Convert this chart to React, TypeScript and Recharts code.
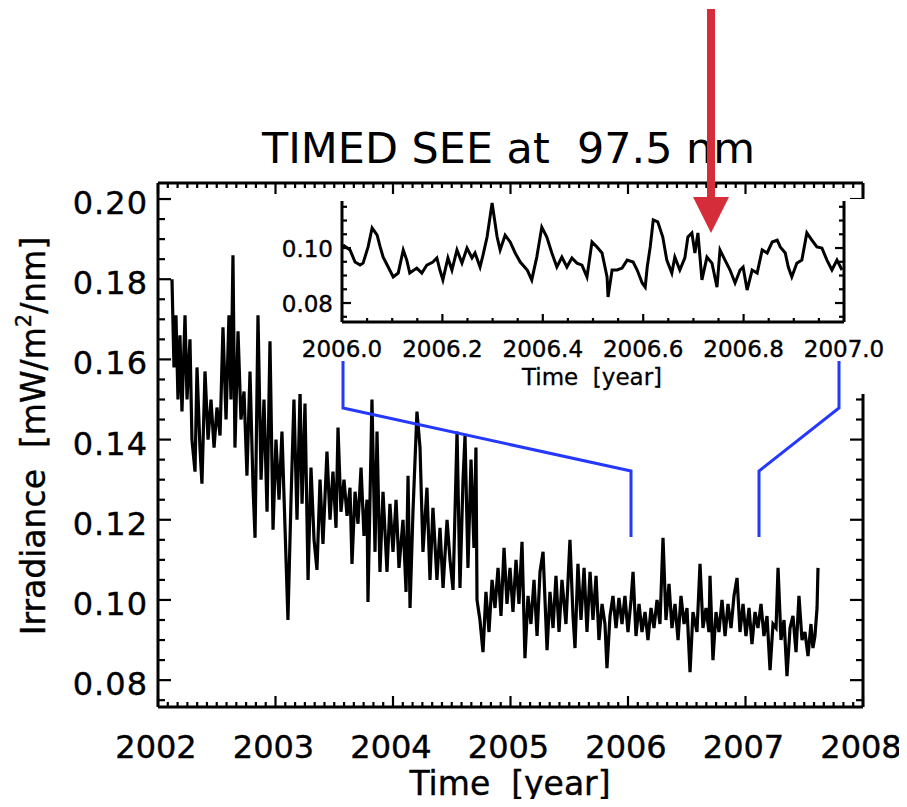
import { LineChart, Line, XAxis, YAxis } from "recharts";

// TIMED SEE irradiance at 97.5 nm, [year, mW/m^2/nm]
const mainPoints: [number, number][] = [
  [2002.119, 0.18], [2002.136, 0.158], [2002.153, 0.171], [2002.17, 0.15], [2002.187, 0.166],
  [2002.204, 0.147], [2002.23, 0.171], [2002.247, 0.15], [2002.272, 0.165], [2002.289, 0.14],
  [2002.315, 0.132], [2002.332, 0.158], [2002.357, 0.138], [2002.374, 0.129], [2002.4, 0.157],
  [2002.426, 0.14], [2002.451, 0.15], [2002.477, 0.138], [2002.502, 0.148], [2002.528, 0.141],
  [2002.553, 0.168], [2002.579, 0.145], [2002.604, 0.171], [2002.621, 0.15], [2002.638, 0.186],
  [2002.655, 0.138], [2002.681, 0.167], [2002.706, 0.145], [2002.732, 0.152], [2002.757, 0.131],
  [2002.783, 0.157], [2002.809, 0.128], [2002.826, 0.1155], [2002.851, 0.171], [2002.877, 0.13],
  [2002.902, 0.15], [2002.928, 0.122], [2002.953, 0.1645], [2002.979, 0.1175], [2003.004, 0.14],
  [2003.03, 0.125], [2003.055, 0.142], [2003.081, 0.118], [2003.106, 0.095], [2003.132, 0.125],
  [2003.157, 0.15], [2003.183, 0.12], [2003.209, 0.152], [2003.226, 0.124], [2003.251, 0.149],
  [2003.277, 0.105], [2003.302, 0.133], [2003.328, 0.115], [2003.353, 0.1075], [2003.379, 0.13],
  [2003.404, 0.114], [2003.438, 0.137], [2003.464, 0.12], [2003.489, 0.132], [2003.515, 0.118],
  [2003.532, 0.143], [2003.557, 0.122], [2003.583, 0.13], [2003.609, 0.121], [2003.634, 0.128],
  [2003.651, 0.109], [2003.677, 0.127], [2003.702, 0.119], [2003.728, 0.133], [2003.753, 0.116],
  [2003.779, 0.125], [2003.787, 0.0995], [2003.821, 0.15], [2003.847, 0.112], [2003.864, 0.142],
  [2003.889, 0.107], [2003.915, 0.127], [2003.949, 0.107], [2003.974, 0.124], [2004.0, 0.112],
  [2004.026, 0.125], [2004.051, 0.108], [2004.085, 0.12], [2004.111, 0.102], [2004.128, 0.131],
  [2004.145, 0.098], [2004.17, 0.122], [2004.204, 0.147], [2004.23, 0.138], [2004.255, 0.112],
  [2004.289, 0.128], [2004.315, 0.105], [2004.34, 0.123], [2004.374, 0.105], [2004.4, 0.118],
  [2004.426, 0.103], [2004.46, 0.12], [2004.485, 0.11], [2004.511, 0.1025], [2004.545, 0.142],
  [2004.57, 0.103], [2004.596, 0.13], [2004.613, 0.141], [2004.638, 0.108], [2004.664, 0.135],
  [2004.689, 0.113], [2004.706, 0.138], [2004.715, 0.1], [2004.74, 0.095], [2004.766, 0.087],
  [2004.791, 0.102], [2004.817, 0.092], [2004.843, 0.105], [2004.868, 0.098], [2004.894, 0.108],
  [2004.919, 0.096], [2004.945, 0.113], [2004.97, 0.099], [2004.996, 0.108], [2005.021, 0.097],
  [2005.047, 0.11], [2005.072, 0.099], [2005.098, 0.1145], [2005.123, 0.0855], [2005.149, 0.101],
  [2005.174, 0.094], [2005.2, 0.105], [2005.226, 0.091], [2005.251, 0.107], [2005.277, 0.112],
  [2005.311, 0.0875], [2005.336, 0.102], [2005.362, 0.093], [2005.387, 0.106], [2005.413, 0.092],
  [2005.438, 0.105], [2005.472, 0.094], [2005.506, 0.115], [2005.532, 0.096], [2005.549, 0.088],
  [2005.574, 0.109], [2005.6, 0.095], [2005.626, 0.108], [2005.651, 0.092], [2005.677, 0.107],
  [2005.702, 0.095], [2005.728, 0.106], [2005.753, 0.09], [2005.779, 0.099], [2005.804, 0.094],
  [2005.821, 0.083], [2005.847, 0.096], [2005.872, 0.101], [2005.898, 0.093], [2005.923, 0.1005],
  [2005.949, 0.094], [2005.974, 0.101], [2006.0, 0.092], [2006.026, 0.1], [2006.043, 0.107],
  [2006.068, 0.091], [2006.094, 0.099], [2006.119, 0.092], [2006.145, 0.097], [2006.17, 0.09],
  [2006.196, 0.098], [2006.221, 0.093], [2006.247, 0.1], [2006.272, 0.094], [2006.298, 0.1155],
  [2006.323, 0.095], [2006.349, 0.104], [2006.374, 0.093], [2006.4, 0.099], [2006.426, 0.09],
  [2006.451, 0.101], [2006.477, 0.094], [2006.502, 0.098], [2006.528, 0.082], [2006.553, 0.097],
  [2006.587, 0.092], [2006.613, 0.109], [2006.638, 0.093], [2006.664, 0.098], [2006.689, 0.092],
  [2006.698, 0.106], [2006.723, 0.085], [2006.749, 0.097], [2006.774, 0.092], [2006.8, 0.1],
  [2006.826, 0.091], [2006.851, 0.099], [2006.877, 0.093], [2006.902, 0.101], [2006.928, 0.1055],
  [2006.953, 0.092], [2006.979, 0.099], [2007.004, 0.091], [2007.03, 0.098], [2007.055, 0.089],
  [2007.081, 0.097], [2007.106, 0.093], [2007.132, 0.099], [2007.157, 0.091], [2007.183, 0.096],
  [2007.209, 0.0825], [2007.234, 0.094], [2007.26, 0.093], [2007.277, 0.108], [2007.302, 0.09],
  [2007.328, 0.095], [2007.353, 0.081], [2007.379, 0.093], [2007.404, 0.096], [2007.43, 0.087],
  [2007.455, 0.101], [2007.481, 0.09], [2007.506, 0.092], [2007.532, 0.086], [2007.557, 0.094],
  [2007.574, 0.088], [2007.591, 0.091], [2007.609, 0.098], [2007.617, 0.108],
];

// zoom on 2006
const insetPoints: [number, number][] = [
  [2006.002, 0.1011], [2006.016, 0.0993], [2006.026, 0.0949], [2006.036, 0.0938], [2006.042, 0.0945],
  [2006.052, 0.1004], [2006.06, 0.1073], [2006.07, 0.1047], [2006.076, 0.1004], [2006.082, 0.0967],
  [2006.092, 0.0931], [2006.102, 0.0895], [2006.112, 0.0909], [2006.122, 0.0993], [2006.129, 0.0956],
  [2006.135, 0.0909], [2006.149, 0.0927], [2006.159, 0.0909], [2006.169, 0.0938], [2006.181, 0.0949],
  [2006.189, 0.0964], [2006.195, 0.092], [2006.201, 0.0884], [2006.211, 0.0964], [2006.219, 0.092],
  [2006.229, 0.0993], [2006.239, 0.0945], [2006.249, 0.1], [2006.259, 0.0964], [2006.265, 0.0982],
  [2006.275, 0.0931], [2006.281, 0.0975], [2006.289, 0.104], [2006.299, 0.1164], [2006.309, 0.104],
  [2006.315, 0.0993], [2006.325, 0.1047], [2006.335, 0.1022], [2006.345, 0.0982], [2006.355, 0.0949],
  [2006.369, 0.092], [2006.378, 0.0884], [2006.388, 0.0967], [2006.398, 0.1076], [2006.408, 0.104],
  [2006.418, 0.0982], [2006.428, 0.0931], [2006.438, 0.0967], [2006.448, 0.0931], [2006.458, 0.0964],
  [2006.468, 0.0945], [2006.478, 0.0938], [2006.488, 0.0895], [2006.498, 0.1022], [2006.508, 0.1004],
  [2006.518, 0.0982], [2006.528, 0.0895], [2006.53, 0.0822], [2006.538, 0.092], [2006.548, 0.092],
  [2006.558, 0.0927], [2006.568, 0.0956], [2006.58, 0.0949], [2006.588, 0.092], [2006.598, 0.0873],
  [2006.604, 0.0858], [2006.608, 0.0931], [2006.614, 0.1004], [2006.62, 0.1102], [2006.629, 0.1095],
  [2006.639, 0.104], [2006.647, 0.0956], [2006.657, 0.0909], [2006.663, 0.0967], [2006.673, 0.092],
  [2006.683, 0.0964], [2006.689, 0.104], [2006.697, 0.1055], [2006.703, 0.0982], [2006.709, 0.1055],
  [2006.717, 0.0884], [2006.727, 0.0967], [2006.737, 0.0945], [2006.747, 0.0858], [2006.753, 0.0993],
  [2006.763, 0.0956], [2006.773, 0.092], [2006.783, 0.0873], [2006.793, 0.092], [2006.799, 0.0931],
  [2006.807, 0.0847], [2006.817, 0.092], [2006.827, 0.0909], [2006.837, 0.0993], [2006.847, 0.0982],
  [2006.857, 0.1022], [2006.867, 0.1029], [2006.873, 0.1004], [2006.883, 0.0982], [2006.889, 0.0931],
  [2006.896, 0.0895], [2006.906, 0.0945], [2006.916, 0.0956], [2006.926, 0.1055], [2006.936, 0.1029],
  [2006.946, 0.1004], [2006.956, 0.1], [2006.966, 0.0956], [2006.976, 0.092], [2006.986, 0.0956],
  [2006.996, 0.092],
];

const mainXLabels = [2002, 2003, 2004, 2005, 2006, 2007, 2008];
const mainYLabels = [0.08, 0.1, 0.12, 0.14, 0.16, 0.18, 0.2];
const insetXLabels = [2006.0, 2006.2, 2006.4, 2006.6, 2006.8, 2007.0];
const insetYLabels = [0.08, 0.1];

const mainData = mainPoints.map(([t, v]) => ({ t, v }));
const insetData = insetPoints.map(([t, v]) => ({ t, v }));

const steps = (a: number, b: number, d: number) => {
  const out: number[] = [];
  for (let i = 0; a + i * d <= b + 1e-9; i++) out.push(Math.round((a + i * d) * 1e6) / 1e6);
  return out;
};

const mainXTicks = steps(2002, 2008, 1 / 12);
const mainYTicks = steps(0.075, 0.2, 0.005);
const insetXTicks = steps(2006, 2007, 0.05);
const insetYTicks = steps(0.075, 0.115, 0.005);

const FONT = "'DejaVu Sans', sans-serif";

type TickOpts = {
  side: "bottom" | "top" | "left" | "right";
  labels: number[];
  major: number;
  minor: number;
  fmt?: (v: number) => string;
  size?: number;
  dx?: number;
  dy?: number;
  spacing?: number;
};

const makeTick = (o: TickOpts) => (props: any) => {
  const { x, y, payload } = props;
  const v = payload.value;
  const isMajor = o.labels.some((l) => Math.abs(l - v) < 1e-6);
  const len = isMajor ? o.major : o.minor;
  let x2 = x, y2 = y;
  if (o.side === "bottom") y2 = y - len;
  if (o.side === "top") y2 = y + len;
  if (o.side === "left") x2 = x + len;
  if (o.side === "right") x2 = x - len;
  return (
    <g>
      <line x1={x} y1={y} x2={x2} y2={y2} stroke="#000" strokeWidth={2.2} />
      {isMajor && o.fmt && (
        <text
          x={x + (o.dx ?? 0)}
          y={y + (o.dy ?? 0)}
          textAnchor={o.side === "left" ? "end" : "middle"}
          fontFamily={FONT}
          fontSize={o.size}
          letterSpacing={o.spacing ?? 0}
          fill="#000"
          stroke="#000"
          strokeWidth={0.4}
        >
          {o.fmt(v)}
        </text>
      )}
    </g>
  );
};

const axisLine = { stroke: "#000", strokeWidth: 3 };

export default function App() {
  return (
    <div style={{ position: "relative", width: 907, height: 807, margin: -8, background: "#fff", overflow: "hidden" }}>
      <div style={{ position: "absolute", left: 0, top: 0 }}>
        <LineChart width={907} height={807} data={mainData} margin={{ top: 182, right: 43, bottom: 0, left: 0 }}>
          <XAxis
            xAxisId="b"
            dataKey="t"
            type="number"
            domain={[2002, 2008]}
            allowDataOverflow
            ticks={mainXTicks}
            interval={0}
            height={100}
            tickSize={0}
            tickMargin={0}
            tickLine={false}
            axisLine={axisLine}
            tick={makeTick({ side: "bottom", labels: mainXLabels, major: 11, minor: 5, fmt: (v) => String(Math.round(v)), size: 32, dx: -2, dy: 51 })}
          />
          <XAxis
            xAxisId="t"
            dataKey="t"
            orientation="top"
            type="number"
            domain={[2002, 2008]}
            allowDataOverflow
            ticks={mainXTicks}
            interval={0}
            height={1}
            tickSize={0}
            tickMargin={0}
            tickLine={false}
            axisLine={axisLine}
            tick={makeTick({ side: "top", labels: mainXLabels, major: 11, minor: 5 })}
          />
          <YAxis
            yAxisId="l"
            type="number"
            domain={[0.0733, 0.204]}
            allowDataOverflow
            ticks={mainYTicks}
            interval={0}
            width={158}
            tickSize={0}
            tickMargin={0}
            tickLine={false}
            axisLine={axisLine}
            tick={makeTick({ side: "left", labels: mainYLabels, major: 13, minor: 7, fmt: (v) => v.toFixed(2), size: 32, dx: -10, dy: 15, spacing: 1 })}
          />
          <YAxis
            yAxisId="r"
            orientation="right"
            type="number"
            domain={[0.0733, 0.204]}
            allowDataOverflow
            ticks={mainYTicks}
            interval={0}
            width={1}
            tickSize={0}
            tickMargin={0}
            tickLine={false}
            axisLine={axisLine}
            tick={makeTick({ side: "right", labels: mainYLabels, major: 13, minor: 7 })}
          />
          <Line
            xAxisId="b"
            yAxisId="l"
            dataKey="v"
            type="linear"
            stroke="#000"
            strokeWidth={3.2}
            dot={false}
            isAnimationActive={false}
          />
          {/* invisible twin so the top/right frame axes have a series */}
          <Line
            xAxisId="t"
            yAxisId="r"
            dataKey="v"
            stroke="none"
            dot={false}
            activeDot={false}
            isAnimationActive={false}
          />
        </LineChart>
      </div>

      {/* white patch behind the inset */}
      <div style={{ position: "absolute", left: 285, top: 199, width: 585, height: 195, background: "#fff" }} />

      <div style={{ position: "absolute", left: 250, top: 190 }}>
        <LineChart width={657} height={210} data={insetData} margin={{ top: 11, right: 62, bottom: 0, left: 0 }}>
          <XAxis
            xAxisId="b"
            dataKey="t"
            type="number"
            domain={[2006, 2007]}
            allowDataOverflow
            ticks={insetXTicks}
            interval={0}
            height={78}
            tickSize={0}
            tickMargin={0}
            tickLine={false}
            axisLine={axisLine}
            tick={makeTick({ side: "bottom", labels: insetXLabels, major: 8, minor: 4, fmt: (v) => v.toFixed(1), size: 23, dy: 35 })}
          />
          <YAxis
            yAxisId="l"
            type="number"
            domain={[0.0731, 0.1171]}
            allowDataOverflow
            ticks={insetYTicks}
            interval={0}
            width={92}
            tickSize={0}
            tickMargin={0}
            tickLine={false}
            axisLine={axisLine}
            tick={makeTick({ side: "left", labels: insetYLabels, major: 9, minor: 5, fmt: (v) => v.toFixed(2), size: 23, dx: -9, dy: 9 })}
          />
          <YAxis
            yAxisId="r"
            orientation="right"
            type="number"
            domain={[0.0731, 0.1171]}
            allowDataOverflow
            ticks={insetYTicks}
            interval={0}
            width={1}
            tickSize={0}
            tickMargin={0}
            tickLine={false}
            axisLine={axisLine}
            tick={makeTick({ side: "right", labels: insetYLabels, major: 9, minor: 5 })}
          />
          <Line
            xAxisId="b"
            yAxisId="l"
            dataKey="v"
            type="linear"
            stroke="#000"
            strokeWidth={3}
            dot={false}
            isAnimationActive={false}
          />
          <Line
            xAxisId="b"
            yAxisId="r"
            dataKey="v"
            stroke="none"
            dot={false}
            activeDot={false}
            isAnimationActive={false}
          />
        </LineChart>
      </div>

      {/* titles, connectors and arrow */}
      <svg width={907} height={807} style={{ position: "absolute", left: 0, top: 0, pointerEvents: "none" }}>
        <text
          x={262}
          y={163}
          fontFamily={FONT}
          fontSize={42}
          textLength={493}
          lengthAdjust="spacingAndGlyphs"
          fill="#000"
          style={{ whiteSpace: "pre" }}
        >
          {"TIMED SEE at  97.5 nm"}
        </text>
        <text x={510} y={795} textAnchor="middle" fontFamily={FONT} fontSize={33} fill="#000" stroke="#000" strokeWidth={0.4} style={{ whiteSpace: "pre" }}>
          {"Time  [year]"}
        </text>
        <text x={592} y={385} textAnchor="middle" fontFamily={FONT} fontSize={23} fill="#000" stroke="#000" strokeWidth={0.3} style={{ whiteSpace: "pre" }}>
          {"Time  [year]"}
        </text>
        <text
          transform="translate(45,436) rotate(-90)"
          textAnchor="middle"
          fontFamily={FONT}
          fontSize={33}
          fill="#000"
          stroke="#000"
          strokeWidth={0.4}
          style={{ whiteSpace: "pre" }}
        >
          {"Irradiance  [mW/m"}
          <tspan fontSize={21} dy={-14}>2</tspan>
          <tspan dy={14}>/nm]</tspan>
        </text>
        <polyline points="343,361 343,408 631,471 631,537" fill="none" stroke="#2438ff" strokeWidth={3} />
        <polyline points="839,361 839,408 759,471 759,537" fill="none" stroke="#2438ff" strokeWidth={3} />
        <rect x={707} y={9} width={8} height={190} fill="#d62d3b" />
        <polygon points="693,197 729,197 711,233" fill="#d62d3b" />
      </svg>
    </div>
  );
}
